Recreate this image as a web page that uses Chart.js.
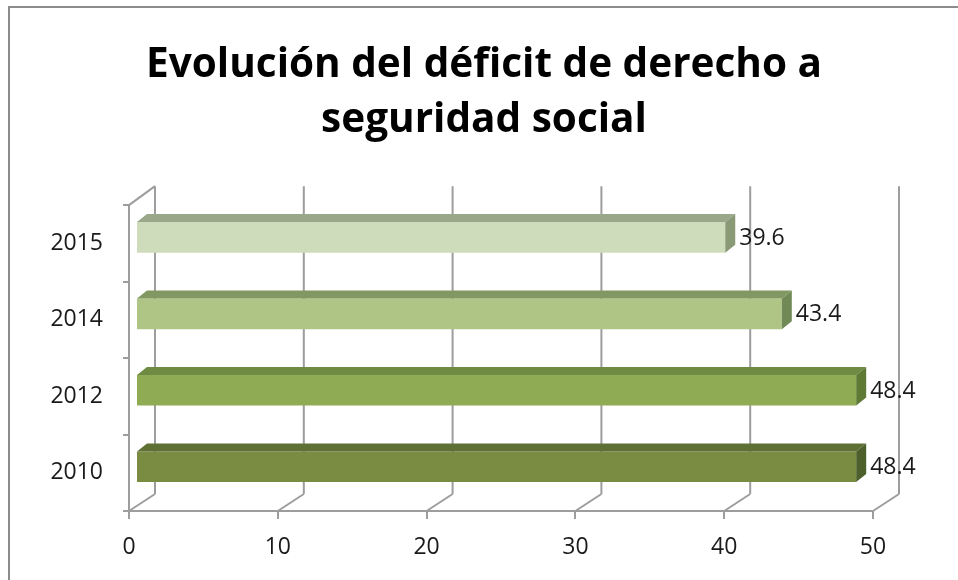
<!DOCTYPE html>
<html>
<head>
<meta charset="utf-8">
<script src="https://cdn.jsdelivr.net/npm/chart.js@4/dist/chart.umd.min.js"></script>
<style>
  html, body { margin: 0; padding: 0; background: #fff; overflow: hidden; }
  #frame {
    position: absolute; left: 8px; top: 6px;
    width: 960px; height: 590px;
    border-left: 2px solid #8c8c8c; border-top: 2px solid #8c8c8c;
  }
  #chart { display: block; }
</style>
</head>
<body>
<div id="frame"><canvas id="chart" width="948" height="572"></canvas></div>
<script>
const titleLines = ["Evolución del déficit de derecho a", "seguridad social"];
const years = ["2010", "2012", "2014", "2015"];
const deficit = [48.4, 48.4, 43.4, 39.6];
const frontColors = ["#7a8c42", "#8fac55", "#afc585", "#cfdcbb"];
const topColors = ["#5e7034", "#6f8a42", "#819862", "#9aa88a"];
const sideColors = ["#4d5f2a", "#5f7a35", "#718a55", "#8a9a77"];
const xTicks = [0, 10, 20, 30, 40, 50];

const axisColor = "#9d9d9d";
const wall = { dx: 26, dyTop: -19, dyBot: -17 };
const barShift = { dx: 7, dy: -6 };
const barDepth = { dx: 10, dy: -8 };

function formatValue(v) {
  return v.toFixed(1);
}

const depthPlugin = {
  id: "depth3d",
  beforeDatasetsDraw(chart) {
    const { ctx, chartArea } = chart;
    const xs = chart.scales.x;
    ctx.save();
    ctx.strokeStyle = axisColor;
    ctx.lineWidth = 2;
    ctx.beginPath();
    // left wall top edge
    ctx.moveTo(chartArea.left, chartArea.top);
    ctx.lineTo(chartArea.left + wall.dx, chartArea.top + wall.dyTop);
    xTicks.forEach((v) => {
      const px = xs.getPixelForValue(v);
      ctx.moveTo(px + wall.dx, chartArea.top + wall.dyTop);
      ctx.lineTo(px + wall.dx, chartArea.bottom + wall.dyBot);
      ctx.moveTo(px, chartArea.bottom);
      ctx.lineTo(px + wall.dx, chartArea.bottom + wall.dyBot);
    });
    ctx.stroke();
    ctx.restore();

    ctx.save();
    ctx.translate(barShift.dx, barShift.dy);
  },
  afterDatasetsDraw(chart) {
    const { ctx } = chart;
    const meta = chart.getDatasetMeta(0);
    meta.data.forEach((bar, i) => {
      const { x, y, base, height } = bar.getProps(["x", "y", "base", "height"], true);
      const top = y - height / 2;
      const bottom = y + height / 2;
      ctx.fillStyle = topColors[i];
      ctx.beginPath();
      ctx.moveTo(base, top);
      ctx.lineTo(base + barDepth.dx, top + barDepth.dy);
      ctx.lineTo(x + barDepth.dx, top + barDepth.dy);
      ctx.lineTo(x, top);
      ctx.closePath();
      ctx.fill();
      ctx.fillStyle = sideColors[i];
      ctx.beginPath();
      ctx.moveTo(x, top);
      ctx.lineTo(x + barDepth.dx, top + barDepth.dy);
      ctx.lineTo(x + barDepth.dx, bottom + barDepth.dy);
      ctx.lineTo(x, bottom);
      ctx.closePath();
      ctx.fill();
    });
    ctx.restore();

    ctx.save();
    ctx.font = "23px 'Open Sans'";
    ctx.fillStyle = "#1a1a1a";
    ctx.textAlign = "left";
    ctx.textBaseline = "middle";
    meta.data.forEach((bar, i) => {
      const { x, y } = bar.getProps(["x", "y"], true);
      ctx.fillText(formatValue(deficit[i]), x + barShift.dx + 14, y + barShift.dy + 1);
    });
    ctx.restore();
  },
};

new Chart(document.getElementById("chart"), {
  type: "bar",
  data: {
    labels: years,
    datasets: [
      {
        data: deficit,
        backgroundColor: frontColors,
        borderWidth: 0,
        categoryPercentage: 1,
        barPercentage: 0.4,
      },
    ],
  },
  options: {
    indexAxis: "y",
    responsive: false,
    animation: false,
    layout: { padding: 0 },
    plugins: {
      legend: { display: false },
      tooltip: { enabled: false },
      title: {
        display: true,
        text: titleLines,
        color: "#000",
        font: { family: "'Open Sans'", size: 40.5, weight: "bold", lineHeight: 1.36 },
        padding: { top: 30, bottom: 57 },
      },
    },
    scales: {
      x: {
        min: 0,
        max: 50,
        afterFit: (scale) => { scale.height = 69; },
        afterBuildTicks: (scale) => { scale.ticks = xTicks.map((v) => ({ value: v })); },
        border: { display: true, color: axisColor, width: 2 },
        grid: { drawOnChartArea: false, tickLength: 8, color: axisColor, lineWidth: 2 },
        ticks: { color: "#1a1a1a", font: { family: "'Open Sans'", size: 23 }, padding: 15 },
      },
      y: {
        reverse: true,
        afterFit: (scale) => { scale.width = 119; },
        border: { display: true, color: axisColor, width: 2 },
        grid: { drawOnChartArea: false, tickLength: 6, color: axisColor, lineWidth: 2, offset: true },
        ticks: { color: "#1a1a1a", font: { family: "'Open Sans'", size: 23 }, padding: 20 },
      },
      // empty right-hand gutter so the title stays centred on the whole frame
      gutter: {
        type: "category",
        axis: "y",
        position: "right",
        labels: years,
        afterFit: (scale) => { scale.width = 85; },
        border: { display: false },
        grid: { display: false },
        ticks: { display: false },
      },
    },
  },
  plugins: [depthPlugin],
});
</script>
</body>
</html>
